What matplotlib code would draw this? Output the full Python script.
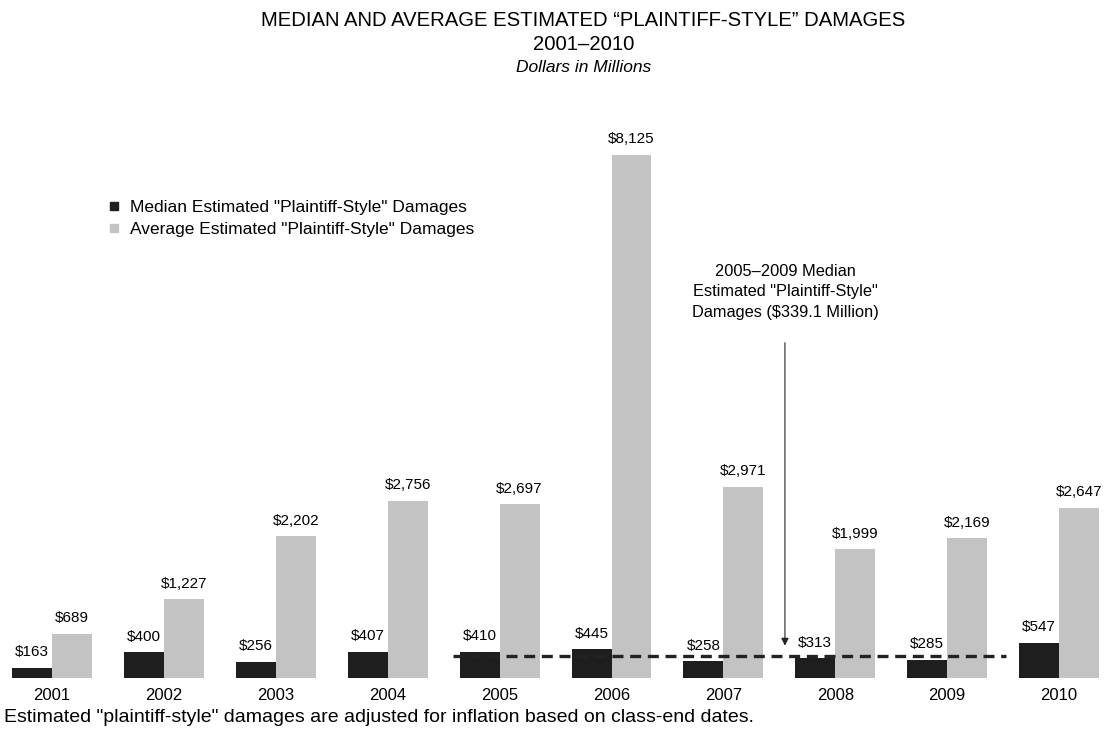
import matplotlib.pyplot as plt
import numpy as np

years = ['2001', '2002', '2003', '2004', '2005', '2006', '2007', '2008', '2009', '2010']
median = [163, 400, 256, 407, 410, 445, 258, 313, 285, 547]
average = [689, 1227, 2202, 2756, 2697, 8125, 2971, 1999, 2169, 2647]
median_0509 = 339.1

plt.rcParams['font.family'] = ['Liberation Sans', 'DejaVu Sans']

fig = plt.figure(figsize=(11.05, 7.34), dpi=100)
# axes spans full width; baseline at ~678px, top at ~100px
ax = fig.add_axes([0, 56 / 734, 1, 578 / 734])

x = np.arange(len(years))
w = 0.357
ax.bar(x - w / 2, median, width=w, color='#1e1e1e', edgecolor='none')
ax.bar(x + w / 2, average, width=w, color='#c3c3c3', edgecolor='none')

for i in range(len(years)):
    ax.annotate('${:,}'.format(median[i]), (x[i] - w / 2, median[i]), xytext=(0, 6),
                textcoords='offset points', ha='center', va='bottom', fontsize=11)
    ax.annotate('${:,}'.format(average[i]), (x[i] + w / 2, average[i]), xytext=(0, 6),
                textcoords='offset points', ha='center', va='bottom', fontsize=11)

# 2005-2009 median dashed line
ax.plot([x[4] - w - 0.06, x[8] + w + 0.17], [median_0509, median_0509],
        ls=(0, (3.3, 2)), color='#222222', lw=2.4)

ax.annotate('', xy=(6.55, median_0509 + 120), xytext=(6.55, 5250),
            arrowprops=dict(arrowstyle='-|>', color='#222222', lw=0.8, mutation_scale=11))
ax.text(6.55, 6000, '2005\u20132009 Median\nEstimated "Plaintiff-Style"\nDamages ($339.1 Million)',
        ha='center', va='center', fontsize=11.8, linespacing=1.45)

ax.set_xlim(-52 / 111.9, (1105 - 52) / 111.9)
ax.set_ylim(0, 578 / 0.0644)
ax.set_xticks(x)
ax.set_xticklabels(years, fontsize=12)
ax.tick_params(axis='x', length=0, pad=7)
ax.set_yticks([])
for s in ax.spines.values():
    s.set_visible(False)

# legend
h1 = plt.Line2D([], [], marker='s', ls='none', color='#1e1e1e', markersize=6)
h2 = plt.Line2D([], [], marker='s', ls='none', color='#c3c3c3', markersize=6)
fig.legend([h1, h2], ['Median Estimated "Plaintiff-Style" Damages',
                      'Average Estimated "Plaintiff-Style" Damages'],
           loc='upper left', bbox_to_anchor=(0.084, 0.749), frameon=False,
           fontsize=12.5, handlelength=0.6, handletextpad=0.65, labelspacing=0.38)

fig.text(0.528, 1 - 20 / 734, 'MEDIAN AND AVERAGE ESTIMATED \u201cPLAINTIFF-STYLE\u201d DAMAGES',
         ha='center', va='center', fontsize=14.6)
fig.text(0.528, 1 - 44 / 734, '2001\u20132010', ha='center', va='center', fontsize=14.6)
fig.text(0.528, 1 - 68 / 734, 'Dollars in Millions', ha='center', va='center', fontsize=12.5,
         style='italic')
fig.text(0.004, 1 - 717 / 734, 'Estimated "plaintiff-style" damages are adjusted for inflation based on class-end dates.',
         ha='left', va='center', fontsize=14)

fig.savefig('out.png', dpi=100)
